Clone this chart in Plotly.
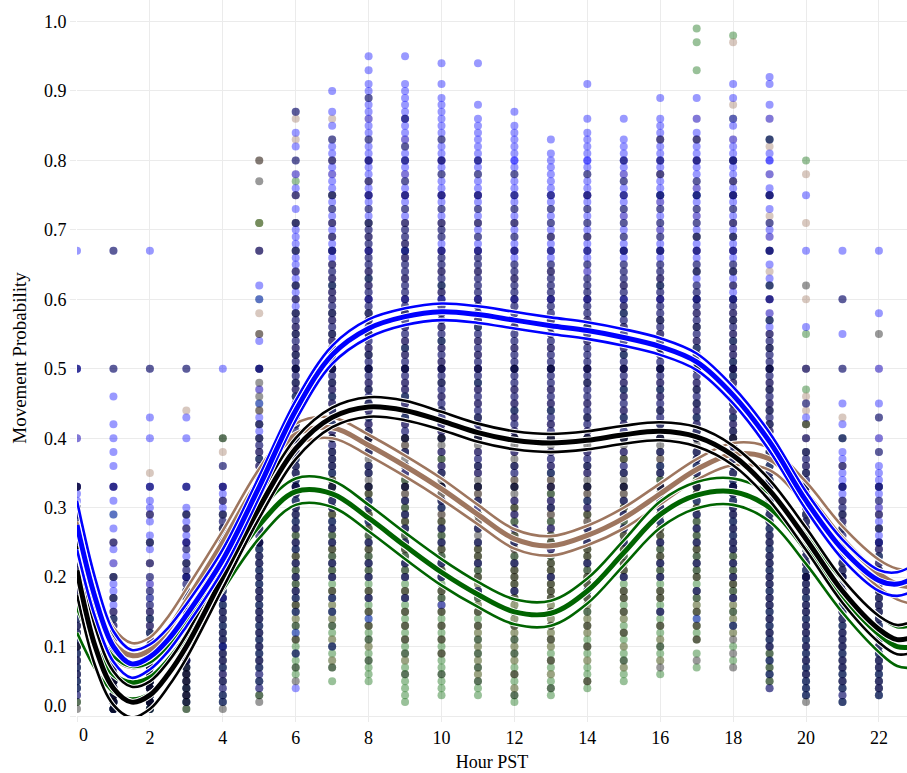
import plotly.graph_objects as go

# Hours of the day at which individual movement probabilities were observed
hours = list(range(23))

# Observed movement probabilities (percent) per hour, one inner list per hour 0..22
blue_pts = [
    [67, 50, 50, 40, 33, 33, 32, 31, 30, 29, 29, 28, 27, 26, 25, 25, 24, 23, 22, 21, 20, 20, 19, 18, 17, 16, 15, 14, 13, 12, 11, 10, 9, 8, 7, 6, 5, 4, 3],
    [67, 50, 46, 42, 40, 38, 36, 33, 33, 31, 29, 27, 25, 24, 22, 20, 19, 18, 17, 16, 15, 14, 13, 12, 11, 10, 10, 9, 9, 8, 8, 7, 7, 6, 6, 5, 5, 4, 4, 3, 3, 2, 2, 1, 1],
    [67, 50, 43, 40, 33, 33, 31, 30, 29, 28, 26, 25, 24, 22, 20, 19, 18, 17, 16, 15, 14, 13, 12, 11, 10, 10, 9, 9, 8, 8, 7, 7, 6, 6, 5, 5, 4, 4, 3, 3, 2, 2, 1],
    [50, 43, 40, 33, 33, 30, 29, 28, 27, 26, 25, 25, 24, 23, 22, 21, 20, 20, 19, 18, 17, 16, 15, 15, 14, 13, 12, 12, 11, 10, 10, 9, 8, 8, 7, 6, 5, 4, 3, 2],
    [50, 36, 33, 33, 32, 31, 30, 29, 28, 27, 26, 25, 25, 24, 23, 22, 21, 20, 20, 19, 18, 17, 17, 16, 15, 14, 13, 12, 11, 10, 10, 9, 8, 7, 6, 5, 4, 3, 2],
    [67, 62, 60, 54, 50, 50, 47, 45, 43, 42, 41, 40, 39, 38, 37, 36, 35, 34, 33, 33, 32, 31, 30, 29, 28, 27, 26, 25, 25, 24, 23, 22, 21, 20, 19, 18, 17, 16, 15, 14, 13, 12, 11, 10, 9, 8, 7, 6, 5, 4],
    [87, 84, 82, 80, 78, 76, 75, 73, 71, 70, 69, 68, 67, 66, 65, 64, 63, 62, 61, 60, 59, 58, 57, 56, 55, 54, 53, 52, 51, 50, 50, 49, 48, 47, 46, 45, 44, 43, 42, 41, 40, 39, 38, 37, 36, 35, 34, 33, 33, 32, 31, 30, 29, 28, 27, 25, 24, 22, 20, 18, 17, 15, 12, 9, 4],
    [90, 87, 85, 83, 82, 81, 80, 79, 78, 77, 76, 75, 74, 73, 72, 71, 70, 69, 68, 67, 67, 66, 65, 64, 63, 62, 61, 60, 59, 58, 57, 56, 55, 54, 53, 52, 51, 50, 50, 49, 48, 47, 46, 45, 44, 43, 42, 41, 40, 39, 38, 37, 36, 35, 33, 31, 30, 28, 27, 25, 22, 20, 17, 15, 10],
    [95, 93, 91, 90, 89, 88, 87, 86, 85, 84, 83, 82, 81, 80, 80, 79, 78, 77, 76, 75, 75, 74, 73, 72, 71, 70, 69, 68, 67, 67, 66, 65, 64, 63, 62, 61, 60, 60, 59, 58, 57, 56, 55, 54, 53, 52, 51, 50, 50, 49, 48, 47, 46, 45, 44, 43, 42, 41, 40, 38, 36, 35, 33, 31, 30, 28, 25, 22, 20, 17, 14],
    [95, 91, 90, 89, 88, 87, 86, 86, 85, 84, 83, 82, 81, 80, 80, 79, 78, 77, 76, 75, 75, 74, 73, 72, 71, 70, 69, 68, 67, 67, 66, 65, 64, 63, 62, 61, 60, 60, 59, 58, 57, 56, 55, 54, 53, 52, 51, 50, 50, 49, 48, 47, 46, 45, 44, 43, 42, 41, 40, 38, 36, 35, 33, 31, 29, 27, 25, 22, 20, 17],
    [94, 91, 89, 88, 87, 86, 85, 84, 83, 82, 81, 80, 80, 79, 78, 77, 76, 75, 75, 74, 73, 72, 71, 70, 69, 68, 67, 67, 66, 65, 64, 63, 62, 61, 60, 60, 59, 58, 57, 56, 55, 54, 53, 52, 51, 50, 50, 49, 48, 47, 46, 45, 44, 43, 42, 41, 40, 38, 36, 35, 33, 31, 30, 27, 25, 22, 20, 16],
    [94, 88, 86, 85, 84, 83, 82, 81, 80, 80, 79, 78, 77, 76, 75, 75, 74, 73, 72, 71, 70, 69, 68, 67, 67, 66, 65, 64, 63, 62, 61, 60, 60, 59, 58, 57, 56, 55, 54, 53, 52, 51, 50, 50, 49, 48, 47, 46, 45, 44, 43, 42, 41, 40, 38, 37, 36, 35, 33, 31, 30, 27, 25, 22, 18],
    [87, 85, 84, 83, 82, 81, 80, 80, 79, 78, 77, 76, 75, 75, 74, 73, 72, 71, 70, 69, 68, 67, 67, 66, 65, 64, 63, 62, 61, 60, 60, 59, 58, 57, 56, 55, 54, 53, 52, 51, 50, 50, 49, 48, 47, 46, 45, 44, 43, 42, 41, 40, 38, 36, 35, 33, 31, 29, 27, 25, 22, 18],
    [83, 81, 80, 79, 78, 77, 76, 75, 75, 74, 73, 72, 71, 70, 69, 68, 67, 67, 66, 65, 64, 63, 62, 61, 60, 60, 59, 58, 57, 56, 55, 54, 53, 52, 51, 50, 50, 49, 48, 47, 46, 45, 44, 43, 42, 41, 40, 38, 37, 36, 35, 33, 31, 30, 27, 24, 20],
    [91, 86, 84, 83, 82, 81, 80, 80, 79, 78, 77, 76, 75, 75, 74, 73, 72, 71, 70, 69, 68, 67, 67, 66, 65, 64, 63, 62, 61, 60, 60, 59, 58, 57, 56, 55, 54, 53, 52, 51, 50, 50, 49, 48, 47, 46, 45, 44, 43, 42, 41, 40, 38, 37, 36, 35, 33, 31, 30, 27, 25, 22, 18],
    [86, 83, 82, 81, 80, 80, 79, 78, 77, 76, 75, 75, 74, 73, 72, 71, 70, 69, 68, 67, 67, 66, 65, 64, 63, 62, 61, 60, 60, 59, 58, 57, 56, 55, 54, 53, 52, 51, 50, 50, 49, 48, 47, 46, 45, 44, 43, 42, 41, 40, 38, 36, 35, 33, 31, 29, 27, 25, 20],
    [89, 86, 85, 84, 83, 82, 81, 80, 80, 79, 78, 77, 76, 75, 75, 74, 73, 72, 71, 70, 69, 68, 67, 67, 66, 65, 64, 63, 62, 61, 60, 60, 59, 58, 57, 56, 55, 54, 53, 52, 51, 50, 50, 49, 48, 47, 46, 45, 44, 43, 42, 41, 40, 38, 36, 35, 33, 31, 30, 28, 25, 22, 20, 15],
    [89, 86, 84, 83, 82, 81, 80, 80, 79, 78, 77, 76, 75, 75, 74, 73, 72, 71, 70, 69, 68, 67, 67, 66, 65, 64, 63, 62, 61, 60, 60, 59, 58, 57, 56, 55, 54, 53, 52, 51, 50, 50, 49, 48, 47, 46, 45, 44, 43, 42, 41, 40, 38, 37, 36, 35, 33, 31, 29, 27, 25, 22, 18, 14],
    [91, 89, 86, 85, 83, 82, 81, 80, 80, 79, 78, 77, 76, 75, 75, 74, 73, 72, 71, 70, 69, 68, 67, 67, 66, 65, 64, 63, 62, 61, 60, 60, 59, 58, 57, 56, 55, 54, 53, 52, 51, 50, 50, 49, 48, 47, 46, 45, 44, 43, 42, 41, 40, 39, 38, 37, 36, 35, 34, 33, 33, 32, 31, 30, 29, 28, 27, 26, 25, 24, 22, 20, 17, 13],
    [92, 91, 88, 86, 83, 81, 80, 80, 78, 76, 75, 75, 73, 71, 70, 69, 67, 67, 65, 63, 62, 60, 60, 58, 57, 56, 55, 54, 53, 52, 51, 50, 50, 49, 48, 47, 46, 45, 44, 43, 42, 41, 40, 39, 38, 37, 36, 35, 34, 33, 33, 32, 31, 30, 29, 28, 27, 26, 25, 24, 23, 22, 21, 20, 19, 18, 17, 16, 15, 14, 13, 12, 11, 10, 8, 6, 4],
    [75, 67, 56, 50, 45, 43, 40, 38, 37, 36, 35, 34, 33, 33, 32, 31, 30, 29, 28, 27, 26, 25, 25, 24, 23, 22, 21, 20, 20, 19, 18, 17, 16, 15, 14, 13, 12, 11, 10, 9, 8, 7, 6, 5, 4, 3],
    [67, 60, 55, 50, 45, 42, 40, 38, 37, 36, 35, 34, 33, 33, 32, 31, 30, 29, 28, 27, 26, 25, 25, 24, 23, 22, 21, 20, 20, 19, 18, 17, 16, 15, 14, 13, 12, 11, 10, 9, 8, 7, 6, 5, 4, 3, 2],
    [67, 58, 50, 45, 43, 40, 38, 36, 35, 34, 33, 33, 32, 31, 30, 29, 28, 27, 26, 25, 25, 24, 23, 22, 21, 20, 20, 19, 18, 17, 16, 15, 14, 13, 12, 11, 10, 9, 8, 7, 6, 5, 4, 3],
]

black_pts = [
    [50, 33, 33, 30, 29, 28, 27, 26, 25, 25, 24, 23, 22, 21, 20, 20, 19, 18, 17, 16, 15, 14, 13, 12, 11, 10, 10, 9, 8, 7, 6, 5, 4, 3, 2, 1],
    [67, 50, 33, 25, 20, 17, 15, 14, 13, 12, 11, 10, 9, 9, 8, 8, 7, 7, 6, 6, 5, 5, 5, 4, 4, 4, 3, 3, 3, 2, 2, 2, 1, 1, 1],
    [50, 33, 29, 25, 22, 20, 18, 16, 15, 14, 13, 12, 11, 10, 10, 9, 9, 8, 8, 7, 7, 6, 6, 5, 5, 5, 4, 4, 4, 3, 3, 3, 2, 2, 2, 1, 1],
    [50, 33, 29, 27, 25, 24, 22, 21, 20, 19, 18, 17, 16, 15, 14, 13, 12, 12, 11, 10, 10, 9, 9, 8, 8, 7, 7, 6, 6, 5, 5, 4, 4, 3, 3, 2, 2, 1],
    [40, 36, 33, 31, 29, 28, 27, 26, 25, 25, 24, 23, 22, 21, 20, 20, 19, 18, 17, 16, 15, 14, 13, 12, 11, 10, 9, 8, 7, 6, 5, 4, 3, 2, 1],
    [80, 77, 67, 55, 50, 48, 46, 44, 42, 40, 39, 38, 37, 36, 35, 34, 33, 33, 32, 31, 30, 29, 28, 27, 26, 25, 25, 24, 23, 22, 21, 20, 19, 18, 17, 16, 15, 14, 13, 12, 11, 10, 9, 8, 7, 6, 5, 4, 3, 2],
    [87, 80, 75, 71, 67, 64, 62, 60, 58, 57, 56, 55, 54, 53, 52, 51, 50, 50, 49, 48, 47, 46, 45, 44, 43, 42, 41, 40, 40, 39, 38, 37, 36, 35, 34, 33, 33, 32, 31, 30, 29, 28, 27, 26, 25, 24, 23, 22, 21, 20, 19, 18, 17, 16, 15, 13, 11, 9, 7, 5],
    [83, 80, 75, 73, 71, 69, 67, 65, 64, 63, 62, 61, 60, 59, 58, 57, 56, 55, 54, 53, 52, 51, 50, 50, 49, 48, 47, 46, 45, 44, 43, 42, 41, 40, 40, 39, 38, 37, 36, 35, 34, 33, 33, 32, 31, 30, 29, 28, 27, 26, 25, 24, 23, 22, 21, 20, 18, 17, 15, 13, 10, 7],
    [89, 83, 80, 77, 75, 73, 71, 70, 69, 68, 67, 66, 65, 64, 63, 62, 61, 60, 59, 58, 57, 56, 55, 54, 53, 52, 51, 50, 50, 49, 48, 47, 46, 45, 44, 43, 42, 41, 40, 40, 39, 38, 37, 36, 35, 34, 33, 33, 32, 31, 30, 29, 28, 27, 26, 25, 24, 23, 22, 21, 20, 18, 17, 15, 13, 11, 8],
    [86, 82, 80, 77, 75, 73, 71, 70, 69, 68, 67, 66, 65, 64, 63, 62, 61, 60, 59, 58, 57, 56, 55, 54, 53, 52, 51, 50, 50, 49, 48, 47, 46, 45, 44, 43, 42, 41, 40, 40, 39, 38, 37, 36, 35, 34, 33, 33, 32, 31, 30, 29, 28, 27, 26, 25, 24, 23, 22, 21, 20, 18, 17, 15, 13, 11, 9, 6],
    [83, 80, 78, 75, 73, 71, 70, 69, 67, 66, 65, 64, 63, 62, 61, 60, 59, 58, 57, 56, 55, 54, 53, 52, 51, 50, 50, 49, 48, 47, 46, 45, 44, 43, 42, 41, 40, 40, 39, 38, 37, 36, 35, 34, 33, 33, 32, 31, 30, 29, 28, 27, 26, 25, 24, 23, 22, 21, 20, 18, 17, 15, 13, 11, 9, 6],
    [80, 78, 75, 73, 71, 69, 67, 66, 65, 64, 63, 62, 61, 60, 59, 58, 57, 56, 55, 54, 53, 52, 51, 50, 50, 49, 48, 47, 46, 45, 44, 43, 42, 41, 40, 40, 39, 38, 37, 36, 35, 34, 33, 33, 32, 31, 30, 29, 28, 27, 26, 25, 24, 23, 22, 21, 20, 18, 17, 15, 13, 11, 9, 7, 5],
    [78, 75, 73, 71, 69, 67, 65, 64, 63, 62, 61, 60, 59, 58, 57, 56, 55, 54, 53, 52, 51, 50, 50, 49, 48, 47, 46, 45, 44, 43, 42, 41, 40, 40, 39, 38, 37, 36, 35, 34, 33, 33, 32, 31, 30, 29, 28, 27, 26, 25, 24, 23, 22, 21, 20, 19, 18, 17, 15, 13, 11, 9, 6, 3],
    [75, 73, 71, 69, 67, 65, 64, 63, 62, 61, 60, 59, 58, 57, 56, 55, 54, 53, 52, 51, 50, 50, 49, 48, 47, 46, 45, 44, 43, 42, 41, 40, 40, 39, 38, 37, 36, 35, 34, 33, 33, 32, 31, 30, 29, 28, 27, 26, 25, 24, 23, 22, 21, 20, 19, 18, 17, 15, 13, 11, 8, 4],
    [78, 75, 73, 71, 69, 67, 65, 63, 62, 61, 60, 59, 58, 57, 56, 55, 54, 53, 52, 51, 50, 50, 49, 48, 47, 46, 45, 44, 43, 42, 41, 40, 40, 39, 38, 37, 36, 35, 34, 33, 33, 32, 31, 30, 29, 28, 27, 26, 25, 24, 23, 22, 21, 20, 19, 18, 17, 15, 13, 10, 5],
    [80, 77, 75, 73, 71, 69, 67, 65, 64, 63, 62, 61, 60, 59, 58, 57, 56, 55, 54, 53, 52, 51, 50, 50, 49, 48, 47, 46, 45, 44, 43, 42, 41, 40, 40, 39, 38, 37, 36, 35, 34, 33, 33, 32, 31, 30, 29, 28, 27, 26, 25, 24, 23, 22, 21, 20, 18, 17, 15, 12, 8],
    [83, 80, 78, 75, 73, 71, 69, 67, 65, 64, 63, 62, 61, 60, 59, 58, 57, 56, 55, 54, 53, 52, 51, 50, 50, 49, 48, 47, 46, 45, 44, 43, 42, 41, 40, 40, 39, 38, 37, 36, 35, 34, 33, 33, 32, 31, 30, 29, 28, 27, 26, 25, 24, 23, 22, 21, 20, 18, 17, 15, 13, 10, 7],
    [83, 80, 77, 75, 73, 71, 69, 67, 65, 64, 62, 61, 60, 59, 58, 57, 56, 55, 54, 53, 52, 51, 50, 50, 49, 48, 47, 46, 45, 44, 43, 42, 41, 40, 40, 39, 38, 37, 36, 35, 34, 33, 33, 32, 31, 30, 29, 28, 27, 26, 25, 24, 23, 22, 21, 20, 18, 17, 15, 13, 11, 8],
    [80, 77, 75, 73, 71, 69, 67, 65, 64, 62, 60, 59, 58, 57, 56, 55, 54, 53, 52, 51, 50, 50, 49, 48, 47, 46, 45, 44, 43, 42, 41, 40, 40, 39, 38, 37, 36, 35, 34, 33, 33, 32, 31, 30, 29, 28, 27, 26, 25, 24, 23, 22, 21, 20, 19, 18, 17, 15, 13, 11, 9, 7],
    [83, 75, 71, 67, 62, 60, 57, 55, 54, 53, 52, 51, 50, 50, 49, 48, 47, 46, 45, 44, 43, 42, 41, 40, 40, 39, 38, 37, 36, 35, 34, 33, 33, 32, 31, 30, 29, 28, 27, 26, 25, 24, 23, 22, 21, 20, 19, 18, 17, 16, 15, 14, 13, 12, 11, 10, 9, 8, 7, 6, 5, 4],
    [62, 50, 45, 42, 40, 38, 37, 36, 35, 34, 33, 33, 32, 31, 30, 29, 28, 27, 26, 25, 25, 24, 23, 22, 21, 20, 20, 19, 18, 17, 16, 15, 14, 13, 12, 11, 10, 9, 8, 7, 6, 5, 4, 3, 2],
    [60, 50, 40, 36, 33, 31, 30, 29, 28, 27, 26, 25, 25, 24, 23, 22, 21, 20, 20, 19, 18, 17, 16, 15, 14, 13, 12, 11, 10, 9, 8, 7, 6, 5, 4, 3, 2],
    [55, 43, 38, 33, 31, 29, 27, 25, 24, 23, 22, 21, 20, 19, 18, 17, 16, 15, 14, 13, 12, 11, 10, 9, 8, 7, 6, 5, 4, 3],
]

brown_pts = [
    [40, 33, 30, 29, 27, 25, 24, 22, 21, 20, 18, 17, 15, 13, 12, 10, 8, 6],
    [33, 25, 22, 20, 17, 15, 13, 12, 10, 9, 8, 7, 6, 5, 4, 3, 2],
    [35, 29, 25, 22, 19, 17, 15, 13, 11, 10, 9, 8, 7, 6, 4, 2],
    [44, 29, 27, 25, 22, 20, 18, 17, 15, 14, 12, 11, 9, 8, 6, 5, 3],
    [38, 33, 31, 29, 27, 25, 23, 22, 20, 19, 17, 15, 14, 12, 11, 9, 8, 6, 5],
    [80, 71, 67, 58, 55, 50, 47, 44, 42, 40, 38, 36, 34, 33, 31, 29, 27, 25, 23, 22, 20, 18, 17, 15, 14, 12, 10, 8],
    [86, 83, 78, 75, 71, 67, 64, 62, 60, 58, 56, 55, 53, 52, 50, 48, 47, 45, 44, 42, 40, 39, 38, 36, 35, 33, 32, 30, 29, 27, 25, 23, 22, 20, 18, 16, 14, 11],
    [86, 80, 78, 75, 71, 69, 67, 65, 63, 61, 60, 58, 57, 55, 54, 53, 51, 50, 48, 47, 45, 44, 43, 41, 40, 38, 37, 36, 34, 33, 31, 30, 29, 27, 25, 24, 22, 20, 18, 16, 14, 11, 8],
    [86, 80, 77, 75, 71, 69, 67, 64, 62, 60, 58, 57, 55, 53, 52, 50, 48, 47, 45, 44, 42, 41, 40, 38, 36, 35, 33, 32, 30, 29, 27, 25, 24, 22, 20, 18, 17, 15, 13, 10],
    [83, 78, 75, 71, 68, 66, 63, 60, 58, 56, 54, 52, 50, 48, 47, 45, 44, 42, 40, 39, 38, 36, 35, 33, 32, 31, 29, 28, 27, 25, 24, 22, 20, 18, 17, 15, 13, 11, 8],
    [80, 75, 71, 67, 64, 61, 58, 56, 53, 51, 50, 48, 46, 44, 42, 41, 40, 38, 36, 35, 33, 32, 31, 29, 28, 27, 25, 24, 22, 21, 20, 18, 16, 15, 13, 11, 9],
    [75, 71, 67, 64, 60, 57, 54, 52, 50, 47, 45, 43, 41, 40, 38, 36, 35, 33, 32, 31, 29, 28, 27, 25, 24, 23, 22, 20, 19, 18, 16, 15, 13, 12, 10, 8, 6],
    [71, 67, 63, 60, 56, 53, 50, 47, 45, 43, 41, 40, 38, 36, 34, 33, 31, 30, 29, 27, 26, 25, 24, 22, 21, 20, 19, 18, 17, 16, 14, 13, 12, 10, 8, 6, 4],
    [69, 64, 60, 57, 53, 50, 47, 45, 42, 40, 38, 36, 34, 33, 31, 30, 29, 27, 26, 25, 24, 22, 21, 20, 19, 18, 17, 16, 15, 14, 13, 12, 11, 10, 8, 6],
    [75, 69, 64, 60, 57, 54, 50, 48, 45, 43, 41, 40, 38, 36, 35, 33, 32, 30, 29, 28, 27, 25, 24, 23, 22, 20, 19, 18, 17, 16, 14, 13, 12, 10, 8, 5],
    [78, 72, 67, 62, 59, 56, 53, 50, 48, 46, 44, 42, 40, 38, 37, 35, 33, 32, 31, 30, 29, 27, 26, 25, 24, 22, 21, 20, 18, 17, 15, 14, 12, 10, 7],
    [83, 78, 74, 70, 67, 63, 60, 57, 55, 53, 50, 48, 46, 44, 42, 40, 38, 37, 35, 33, 32, 31, 30, 29, 27, 26, 25, 23, 22, 20, 18, 17, 15, 13, 11, 8],
    [86, 83, 80, 76, 72, 69, 67, 64, 60, 58, 56, 54, 52, 50, 48, 47, 45, 44, 42, 41, 40, 38, 37, 35, 33, 32, 30, 29, 27, 25, 24, 22, 20, 18, 16, 15, 13, 11],
    [97, 88, 86, 83, 80, 77, 75, 71, 69, 67, 64, 62, 60, 58, 57, 55, 53, 52, 50, 48, 47, 45, 44, 42, 41, 40, 38, 37, 35, 33, 32, 30, 29, 27, 25, 24, 22, 20, 19, 17, 16, 14, 12],
    [86, 82, 78, 75, 72, 69, 67, 64, 60, 58, 55, 53, 50, 48, 47, 45, 44, 42, 41, 40, 38, 37, 35, 33, 32, 30, 29, 28, 26, 25, 23, 22, 20, 19, 17, 16, 14, 12, 10],
    [78, 71, 60, 50, 46, 44, 42, 40, 38, 36, 35, 33, 32, 30, 29, 28, 27, 25, 24, 23, 22, 20, 19, 18, 16, 15, 13, 12, 10, 8, 6],
    [43, 36, 33, 31, 29, 28, 27, 25, 24, 23, 22, 21, 20, 19, 18, 17, 15, 14, 12, 11, 10, 8, 7, 5],
    [50, 40, 33, 30, 29, 27, 25, 24, 22, 21, 20, 19, 18, 17, 16, 15, 14, 12, 11, 10, 8, 7, 5, 4],
]

green_pts = [
    [30, 27, 25, 22, 20, 18, 17, 16, 15, 14, 13, 12, 11, 10, 9, 8, 7, 6, 5, 4, 2],
    [29, 20, 17, 14, 12, 10, 9, 8, 7, 6, 5, 5, 4, 3, 3, 2, 2, 1, 1],
    [25, 17, 14, 12, 10, 9, 8, 7, 6, 5, 5, 4, 3, 3, 2, 2, 1, 1],
    [29, 22, 20, 18, 17, 15, 14, 13, 12, 11, 10, 9, 8, 7, 6, 5, 4, 3, 2, 1],
    [40, 29, 27, 25, 23, 22, 21, 20, 19, 18, 17, 16, 15, 14, 13, 12, 11, 10, 9, 8, 7, 5, 3, 2],
    [71, 71, 60, 50, 45, 42, 40, 37, 35, 33, 31, 30, 29, 28, 27, 25, 24, 23, 22, 21, 20, 19, 18, 17, 16, 15, 14, 13, 12, 11, 10, 9, 8, 7, 5, 3],
    [77, 71, 67, 62, 58, 55, 52, 50, 48, 46, 44, 42, 40, 39, 38, 37, 36, 35, 34, 33, 32, 31, 30, 29, 28, 27, 26, 25, 24, 23, 22, 21, 20, 19, 18, 17, 16, 15, 14, 13, 12, 11, 10, 9, 8, 7, 6],
    [75, 67, 62, 58, 55, 52, 50, 48, 46, 44, 42, 40, 38, 37, 36, 35, 34, 33, 32, 31, 30, 29, 28, 27, 26, 25, 24, 23, 22, 21, 20, 19, 18, 17, 16, 15, 14, 13, 12, 11, 10, 9, 8, 7, 5],
    [71, 63, 58, 55, 52, 50, 47, 45, 43, 41, 40, 38, 36, 35, 33, 32, 31, 30, 29, 28, 27, 26, 25, 24, 23, 22, 21, 20, 19, 18, 17, 16, 15, 14, 13, 12, 11, 10, 9, 8, 7, 6, 5],
    [67, 58, 53, 50, 46, 43, 40, 38, 36, 34, 33, 31, 30, 29, 28, 27, 26, 25, 24, 23, 22, 21, 20, 19, 18, 17, 16, 15, 14, 13, 12, 11, 10, 9, 8, 7, 6, 5, 4, 3, 2],
    [62, 54, 48, 44, 40, 37, 35, 33, 31, 30, 28, 27, 26, 25, 24, 23, 22, 21, 20, 19, 18, 17, 16, 15, 14, 13, 12, 11, 10, 9, 8, 7, 6, 5, 4, 3],
    [56, 48, 43, 40, 36, 33, 31, 29, 27, 25, 24, 23, 22, 21, 20, 19, 18, 17, 16, 15, 14, 13, 12, 11, 10, 9, 8, 7, 6, 5, 4, 3],
    [50, 44, 40, 36, 33, 30, 28, 26, 25, 23, 22, 21, 20, 19, 18, 17, 16, 15, 14, 13, 12, 11, 10, 9, 8, 7, 6, 5, 4, 3, 2],
    [50, 44, 40, 35, 32, 30, 28, 26, 25, 23, 22, 21, 20, 19, 18, 17, 16, 15, 14, 13, 12, 11, 10, 9, 8, 7, 6, 5, 4, 3],
    [56, 48, 43, 40, 36, 33, 31, 29, 27, 25, 24, 23, 22, 21, 20, 19, 18, 17, 16, 15, 14, 13, 12, 11, 10, 9, 8, 7, 6, 5, 4],
    [67, 58, 52, 47, 43, 40, 37, 35, 33, 31, 30, 29, 28, 27, 26, 25, 24, 23, 22, 21, 20, 19, 18, 17, 16, 15, 14, 13, 12, 11, 10, 9, 8, 7, 6, 5],
    [75, 67, 62, 57, 53, 50, 47, 44, 42, 40, 38, 36, 35, 34, 33, 32, 31, 30, 29, 28, 27, 26, 25, 24, 23, 22, 21, 20, 19, 18, 17, 16, 15, 14, 13, 12, 11, 10, 9, 8, 6],
    [99, 97, 93, 75, 69, 64, 60, 56, 53, 50, 47, 45, 43, 41, 40, 38, 37, 36, 35, 34, 33, 32, 31, 30, 29, 28, 27, 26, 25, 24, 23, 22, 21, 20, 19, 18, 17, 16, 15, 14, 13, 12, 11, 9, 7],
    [98, 86, 80, 75, 69, 64, 60, 57, 54, 51, 49, 47, 45, 43, 41, 40, 38, 37, 36, 35, 34, 33, 32, 31, 30, 29, 28, 27, 26, 25, 24, 23, 22, 21, 20, 19, 18, 17, 16, 15, 14, 13, 12, 10, 8],
    [83, 75, 67, 62, 57, 53, 50, 47, 44, 42, 40, 38, 36, 35, 34, 33, 32, 31, 30, 29, 28, 27, 26, 25, 24, 23, 22, 21, 20, 19, 18, 17, 16, 15, 14, 13, 12, 11, 10, 9, 8, 7, 6, 5],
    [80, 55, 47, 42, 38, 35, 33, 31, 29, 28, 27, 26, 25, 24, 23, 22, 21, 20, 19, 18, 17, 16, 15, 14, 13, 12, 11, 10, 9, 8, 7, 6, 5, 4, 3],
    [40, 33, 29, 27, 25, 23, 22, 21, 20, 19, 18, 17, 16, 15, 14, 13, 12, 11, 10, 9, 8, 7, 6, 5, 4, 2],
    [33, 27, 25, 23, 21, 20, 19, 18, 17, 16, 15, 14, 13, 12, 11, 10, 9, 8, 7, 6, 5, 4, 3],
]

# Smoothed model fits (probability) and half-width of their confidence bands
curve_hours = [0, 0.5, 1, 1.5, 2, 2.5, 3, 4, 5, 6, 7, 8, 9, 10, 11, 12, 13, 14,
               15, 16, 17, 18, 19, 20, 21, 22, 22.5, 23]

blue_fit = [0.275, 0.17, 0.10, 0.075, 0.085, 0.11, 0.145, 0.225, 0.33, 0.44, 0.52, 0.558,
            0.575, 0.582, 0.578, 0.570, 0.562, 0.555, 0.545, 0.532, 0.510, 0.462, 0.395,
            0.31, 0.24, 0.195, 0.19, 0.20]
blue_ci = [0.035, 0.028, 0.022, 0.020, 0.018, 0.017, 0.016, 0.015, 0.015, 0.014, 0.013, 0.013,
           0.012, 0.012, 0.012, 0.012, 0.012, 0.012, 0.012, 0.012, 0.012, 0.012, 0.013,
           0.013, 0.014, 0.015, 0.017, 0.019]

black_fit = [0.21, 0.10, 0.04, 0.02, 0.03, 0.06, 0.10, 0.20, 0.30, 0.385, 0.43, 0.445,
             0.44, 0.425, 0.408, 0.397, 0.393, 0.397, 0.405, 0.41, 0.402, 0.375, 0.325,
             0.255, 0.18, 0.125, 0.11, 0.115]
black_ci = [0.035, 0.028, 0.024, 0.022, 0.020, 0.018, 0.017, 0.016, 0.015, 0.015, 0.014, 0.014,
            0.014, 0.013, 0.013, 0.013, 0.013, 0.013, 0.013, 0.013, 0.014, 0.014, 0.015,
            0.016, 0.017, 0.019, 0.021, 0.023]

brown_fit = [0.24, 0.16, 0.105, 0.087, 0.095, 0.125, 0.165, 0.25, 0.34, 0.405, 0.415, 0.39,
             0.36, 0.327, 0.29, 0.255, 0.245, 0.26, 0.285, 0.32, 0.355, 0.377, 0.37,
             0.32, 0.255, 0.205, 0.19, 0.185]
brown_ci = [0.040, 0.030, 0.022, 0.018, 0.018, 0.018, 0.018, 0.017, 0.016, 0.016, 0.015, 0.015,
            0.015, 0.015, 0.014, 0.014, 0.014, 0.014, 0.015, 0.015, 0.015, 0.016, 0.016,
            0.017, 0.018, 0.020, 0.022, 0.025]

green_fit = [0.16, 0.10, 0.06, 0.048, 0.055, 0.08, 0.115, 0.20, 0.275, 0.323, 0.32, 0.285,
             0.245, 0.207, 0.175, 0.15, 0.148, 0.18, 0.235, 0.29, 0.318, 0.323, 0.30,
             0.24, 0.172, 0.118, 0.10, 0.10]
green_ci = [0.040, 0.032, 0.026, 0.023, 0.022, 0.021, 0.020, 0.019, 0.019, 0.019, 0.019, 0.019,
            0.019, 0.019, 0.018, 0.018, 0.018, 0.018, 0.018, 0.019, 0.019, 0.019, 0.020,
            0.021, 0.023, 0.026, 0.028, 0.031]

x_ticks = list(range(0, 23, 2))
y_ticks = [i / 10 for i in range(11)]

BLUE = "#0000FF"
BLACK = "#000000"
BROWN = "#9E765F"
GREEN = "#006400"
FONT = "Liberation Serif"
GRID = "#EBEBEB"

fig = go.Figure()

# individual observations as translucent dots stacked in hourly columns
for pts, color in [(green_pts, GREEN), (brown_pts, BROWN), (blue_pts, BLUE), (black_pts, BLACK)]:
    xs = [h for h, vals in zip(hours, pts) for _ in vals]
    ys = [v / 100 for vals in pts for v in vals]
    fig.add_trace(go.Scatter(
        x=xs, y=ys, mode="markers",
        marker=dict(color=color, size=8, opacity=0.4, line=dict(width=0)),
        hoverinfo="skip", showlegend=False,
    ))


def add_curve(y, color, width):
    # white casing under each curve keeps overlapping curves apart
    fig.add_trace(go.Scatter(x=curve_hours, y=y, mode="lines",
                             line=dict(color="white", width=width + 2, shape="spline", smoothing=1.0),
                             hoverinfo="skip", showlegend=False))
    fig.add_trace(go.Scatter(x=curve_hours, y=y, mode="lines",
                             line=dict(color=color, width=width, shape="spline", smoothing=1.0),
                             hoverinfo="skip", showlegend=False))


for fit, ci, color in [(brown_fit, brown_ci, BROWN), (green_fit, green_ci, GREEN),
                       (black_fit, black_ci, BLACK), (blue_fit, blue_ci, BLUE)]:
    add_curve([f + c for f, c in zip(fit, ci)], color, 2.6)
    add_curve([f - c for f, c in zip(fit, ci)], color, 2.6)
    add_curve(fit, color, 5)

tick_font = dict(family=FONT, size=18, color="black")

fig.update_layout(
    width=907, height=773,
    margin=dict(l=77, r=0, t=0, b=57),
    paper_bgcolor="white", plot_bgcolor="white",
    font=dict(family=FONT, size=18, color="black"),
    showlegend=False,
)
# the labels at the origin corner sit slightly off their ticks
fig.update_xaxes(
    range=[0, 22.77], tickvals=x_ticks,
    ticktext=[""] + [str(t) for t in x_ticks[1:]],
    showgrid=True, gridcolor=GRID, gridwidth=1, zeroline=False,
    showline=True, linecolor=GRID, linewidth=1,
    ticks="outside", ticklen=5, tickcolor=GRID,
    tickfont=tick_font,
    title=dict(text="Hour PST", font=dict(family=FONT, size=18, color="black"), standoff=8),
)
fig.update_yaxes(
    range=[0, 1.031], tickvals=y_ticks,
    ticktext=[""] + [f"{t:.1f}" for t in y_ticks[1:]],
    showgrid=True, gridcolor=GRID, gridwidth=1, zeroline=False,
    showline=False,
    ticks="outside", ticklen=6, tickcolor=GRID,
    tickfont=tick_font,
    title=dict(text="Movement Probability", font=dict(family=FONT, size=19, color="black"), standoff=12),
)
fig.add_annotation(x=x_ticks[0], xref="x", y=0, yref="paper", text=str(x_ticks[0]),
                   showarrow=False, xanchor="center", yanchor="middle",
                   xshift=6, yshift=-19, font=tick_font)
fig.add_annotation(x=0, xref="paper", y=y_ticks[0], yref="y", text=f"{y_ticks[0]:.1f}",
                   showarrow=False, xanchor="right", yanchor="middle",
                   xshift=-8, yshift=10, font=tick_font)

fig.write_html("out.html")
